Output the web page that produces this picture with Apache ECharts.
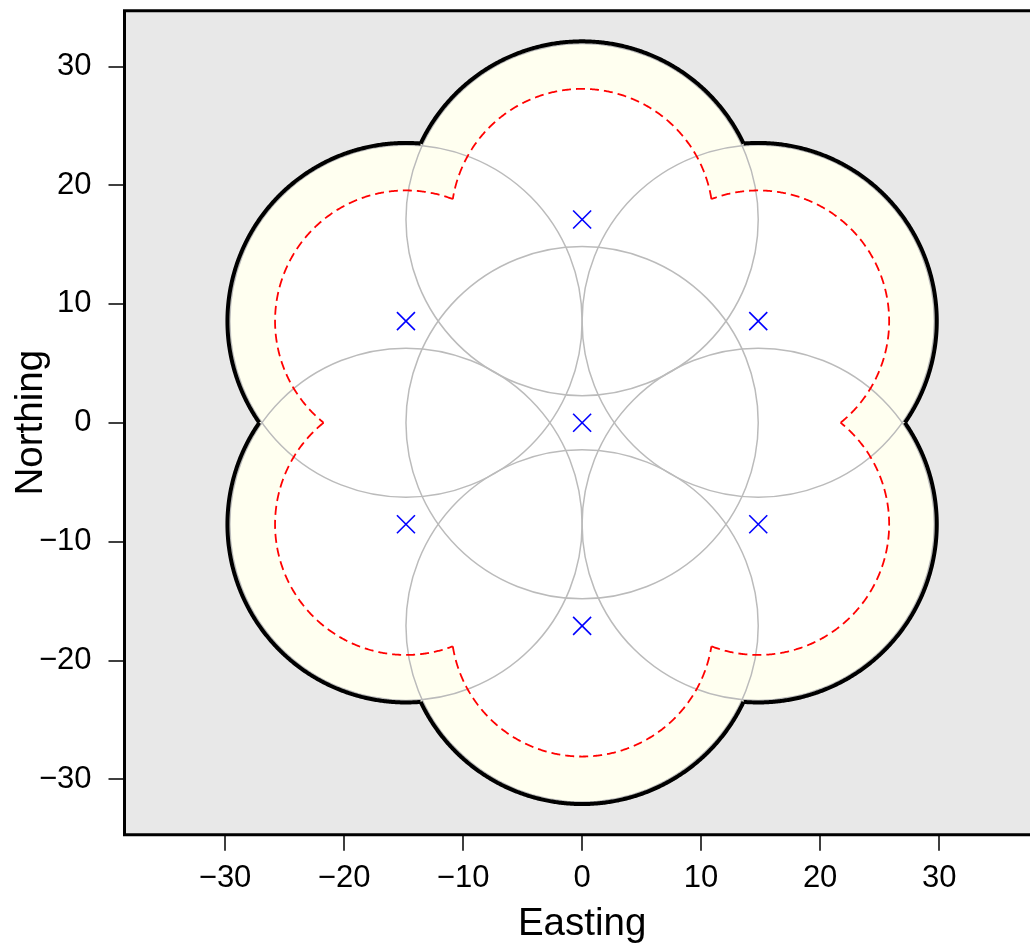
<!DOCTYPE html>
<html>
<head>
<meta charset="utf-8">
<script src="https://cdn.jsdelivr.net/npm/echarts@6/dist/echarts.min.js"></script>
<style>
html, body { margin: 0; padding: 0; background: #fff; }
#chart { width: 1030px; height: 945px; }
</style>
</head>
<body>
<div id="chart"></div>
<script>
// site centres
var centreEast  = [0, 0, 14.8, 14.8, 0, -14.8, -14.8];
var centreNorth = [0, 17.1, 8.55, -8.55, -17.1, -8.55, 8.55];
// radii (map units)
var cellRadius  = 14.8;  // grey circles
var outerRadius = 15;    // black boundary / yellow zone
var innerRadius = 11;    // red dashed boundary / white zone
var tickValues  = [-30, -20, -10, 0, 10, 20, 30];

var FONT = 'Liberation Sans';

// boundary of the union of equal circles -> list of arcs (as point lists)
function unionArcs(r) {
    var arcs = [];
    var TWO_PI = Math.PI * 2;
    for (var i = 0; i < centreEast.length; i++) {
        var ivs = [];
        for (var j = 0; j < centreEast.length; j++) {
            if (j === i) continue;
            var dx = centreEast[j] - centreEast[i], dy = centreNorth[j] - centreNorth[i];
            var d = Math.sqrt(dx * dx + dy * dy);
            if (d === 0 || d >= 2 * r) continue;
            var th = Math.atan2(dy, dx);
            var al = Math.acos(d / (2 * r));
            var s = th - al;
            s = ((s % TWO_PI) + TWO_PI) % TWO_PI;
            var e = s + 2 * al;
            if (e > TWO_PI) {
                ivs.push([s, TWO_PI]);
                ivs.push([0, e - TWO_PI]);
            } else {
                ivs.push([s, e]);
            }
        }
        ivs.sort(function (a, b) { return a[0] - b[0]; });
        var merged = [];
        ivs.forEach(function (iv) {
            var last = merged[merged.length - 1];
            if (last && iv[0] <= last[1]) last[1] = Math.max(last[1], iv[1]);
            else merged.push([iv[0], iv[1]]);
        });
        var gaps = [];
        var cur = 0;
        merged.forEach(function (iv) {
            if (iv[0] > cur) gaps.push([cur, iv[0]]);
            cur = Math.max(cur, iv[1]);
        });
        if (cur < TWO_PI) gaps.push([cur, TWO_PI]);
        if (gaps.length > 1 && gaps[0][0] === 0 && gaps[gaps.length - 1][1] === TWO_PI) {
            var first = gaps.shift();
            gaps[gaps.length - 1][1] = first[1] + TWO_PI;
        }
        gaps.forEach(function (g) {
            var n = Math.max(2, Math.ceil((g[1] - g[0]) / (0.4 * Math.PI / 180)));
            var pts = [];
            for (var k = 0; k <= n; k++) {
                var a = g[0] + (g[1] - g[0]) * k / n;
                pts.push([centreEast[i] + r * Math.cos(a), centreNorth[i] + r * Math.sin(a)]);
            }
            arcs.push(pts);
        });
    }
    return arcs;
}

var blackArcs = unionArcs(outerRadius);
var redArcs = unionArcs(innerRadius);

var centres = centreEast.map(function (x, i) { return [x, centreNorth[i]]; });

function circleSeries(r, style) {
    return {
        type: 'custom',
        silent: true,
        clip: true,
        data: centres,
        renderItem: function (params, api) {
            var c = api.coord([api.value(0), api.value(1)]);
            var rr = api.size([r, r])[0];
            return { type: 'circle', shape: { cx: c[0], cy: c[1], r: rr }, style: style };
        }
    };
}

function arcSeries(arcs, style) {
    return {
        type: 'custom',
        silent: true,
        clip: true,
        data: arcs.map(function (a, idx) { return [a[0][0], a[0][1], idx]; }),
        renderItem: function (params, api) {
            var pts = arcs[api.value(2)].map(function (p) { return api.coord(p); });
            return { type: 'polyline', shape: { points: pts }, style: style };
        }
    };
}

function fmt(v) {
    return v < 0 ? '\u2212' + Math.abs(v) : String(v);
}

var chart = echarts.init(document.getElementById('chart'));
chart.setOption({
    animation: false,
    backgroundColor: '#ffffff',
    grid: {
        show: true,
        outerBoundsMode: 'none',
        containLabel: false,
        left: 124.5,
        top: 10.7,
        bottom: 110.3,
        right: -9.7,
        backgroundColor: '#E8E8E8',
        borderColor: '#000',
        borderWidth: 3
    },
    xAxis: {
        type: 'value',
        min: -38.45,
        max: 38.45,
        axisLine: { show: false, onZero: false },
        splitLine: { show: false },
        axisTick: { show: true, customValues: tickValues, length: 16, lineStyle: { color: '#000', width: 1.5 } },
        axisLabel: { customValues: tickValues, formatter: fmt, fontSize: 31, color: '#000', fontFamily: FONT, margin: 28 },
        name: 'Easting',
        nameLocation: 'middle',
        nameMoveOverlap: false,
        nameGap: 70,
        nameTextStyle: { fontSize: 38.5, color: '#000', fontFamily: FONT }
    },
    yAxis: {
        type: 'value',
        min: -34.68,
        max: 34.68,
        axisLine: { show: false, onZero: false },
        splitLine: { show: false },
        axisTick: { show: true, customValues: tickValues, length: 16, lineStyle: { color: '#000', width: 1.5 } },
        axisLabel: { customValues: tickValues, formatter: fmt, fontSize: 31, color: '#000', fontFamily: FONT, margin: 33 },
        name: 'Northing',
        nameLocation: 'middle',
        nameMoveOverlap: false,
        nameGap: 74,
        nameTextStyle: { fontSize: 38.5, color: '#000', fontFamily: FONT }
    },
    series: [
        circleSeries(outerRadius, { fill: '#FFFFF0', stroke: null }),
        circleSeries(innerRadius, { fill: '#FFFFFF', stroke: null }),
        circleSeries(cellRadius, { fill: null, stroke: '#BBBBBB', lineWidth: 1.5 }),
        arcSeries(redArcs, { fill: null, stroke: '#FF0000', lineWidth: 1.8, lineDash: [9, 5] }),
        arcSeries(blackArcs, { fill: null, stroke: '#000000', lineWidth: 4 }),
        {
            type: 'custom',
            silent: true,
            data: centres,
            renderItem: function (params, api) {
                var c = api.coord([api.value(0), api.value(1)]);
                var h = 9;
                return {
                    type: 'group',
                    children: [
                        { type: 'line', shape: { x1: c[0] - h, y1: c[1] - h, x2: c[0] + h, y2: c[1] + h }, style: { stroke: '#0000FF', lineWidth: 1.6 } },
                        { type: 'line', shape: { x1: c[0] - h, y1: c[1] + h, x2: c[0] + h, y2: c[1] - h }, style: { stroke: '#0000FF', lineWidth: 1.6 } }
                    ]
                };
            }
        }
    ]
});
</script>
</body>
</html>
